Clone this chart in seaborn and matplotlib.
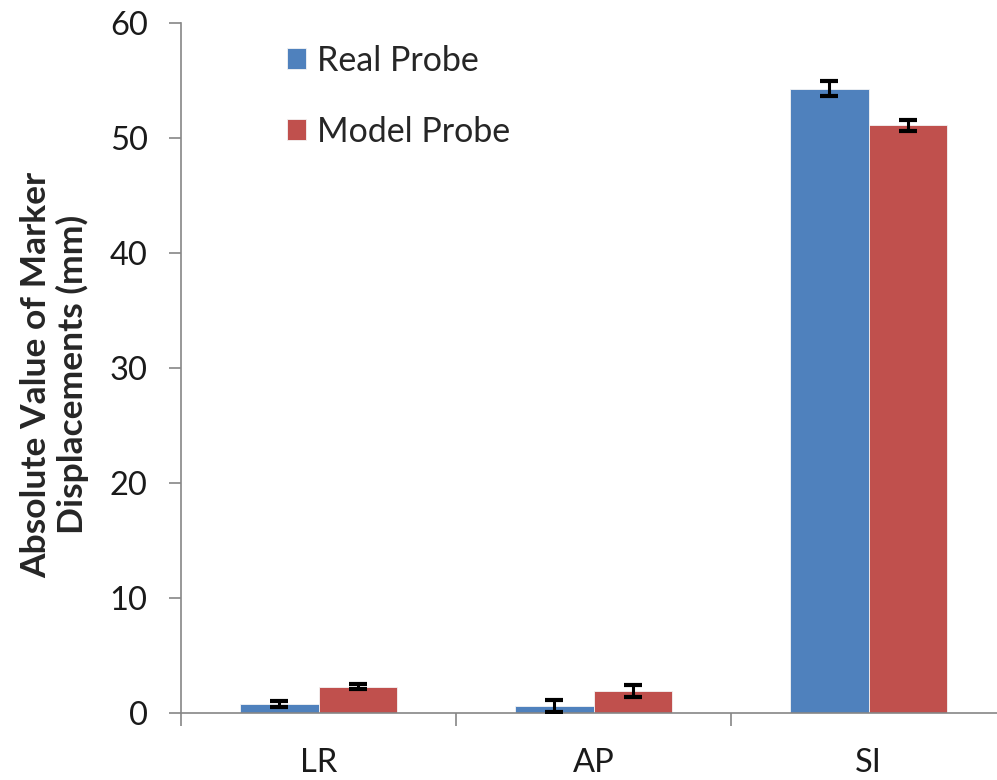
import matplotlib
matplotlib.use("Agg")
import matplotlib.pyplot as plt
import seaborn as sns
import pandas as pd
import numpy as np

# Mean absolute marker displacement per axis, with error bar half-widths
directions = ["LR", "AP", "SI"]
probes = ["Real Probe", "Model Probe"]
real_probe = [0.8, 0.6, 54.3]
model_probe = [2.3, 1.9, 51.1]
real_err = [0.25, 0.52, 0.64]
model_err = [0.25, 0.55, 0.5]
y_ticks = [0, 10, 20, 30, 40, 50, 60]

df = pd.DataFrame({
    "direction": directions * 2,
    "probe": [probes[0]] * 3 + [probes[1]] * 3,
    "value": real_probe + model_probe,
    "err": real_err + model_err,
})

sns.set_style("white")
plt.rcParams["font.family"] = ["Lato", "DejaVu Sans"]

fig = plt.figure(figsize=(9.97, 7.80), dpi=100)
ax = fig.add_axes([181 / 997, 67 / 780, 825 / 997, 690 / 780])

palette = {"Real Probe": "#4F81BD", "Model Probe": "#C0504D"}
sns.barplot(data=df, x="direction", y="value", hue="probe", order=directions,
            hue_order=probes, palette=palette, width=0.57, gap=0,
            saturation=1, errorbar=None, ax=ax,
            edgecolor="#f4f4f4", linewidth=0.6)

# Error bars centred on each bar top
for container, probe in zip(ax.containers, probes):
    sub = df[df["probe"] == probe].set_index("direction").loc[directions]
    xs = [p.get_x() + p.get_width() / 2 for p in container.patches]
    ax.errorbar(xs, sub["value"].values, yerr=sub["err"].values, fmt="none",
                ecolor="black", elinewidth=2.2, capsize=6.5, capthick=3,
                zorder=5)

ax.set_ylim(0, 60)
ax.set_xlim(-0.5, 2.5)
ax.set_yticks(y_ticks)
ax.set_yticklabels([str(t) for t in y_ticks], fontsize=23.5, color="#1a1a1a")

# Category labels centred, tick marks at group boundaries
ax.set_xticks([-0.5, 0.5, 1.5, 2.5])
ax.set_xticklabels([])
ax.set_xticks([0, 1, 2], minor=True)
ax.set_xticklabels(directions, minor=True, fontsize=23.5, color="#1a1a1a")
ax.tick_params(axis="x", which="minor", length=0, pad=25)
ax.tick_params(axis="x", which="major", length=9, width=1.2, color="#868686",
               direction="out", bottom=True)
ax.tick_params(axis="y", length=9, width=1.2, color="#868686",
               direction="out", left=True, pad=15)

for side in ["top", "right"]:
    ax.spines[side].set_visible(False)
for side in ["left", "bottom"]:
    ax.spines[side].set_color("#868686")
    ax.spines[side].set_linewidth(1.2)

ax.set_xlabel("")
ax.set_ylabel("Absolute Value of Marker\nDisplacements (mm)", fontsize=25.5,
              fontweight="bold", linespacing=1.12)
ax.yaxis.set_label_coords(-0.112, 0.49)

handles, labels = ax.get_legend_handles_labels()
ax.legend(handles, labels, loc="upper left", bbox_to_anchor=(256 / 997, 1 - 14 / 780),
          bbox_transform=fig.transFigure, frameon=False, fontsize=24.5,
          handlelength=0.58, handleheight=0.58, handletextpad=0.3,
          labelspacing=1.15)

fig.savefig("out.png", dpi=100)
